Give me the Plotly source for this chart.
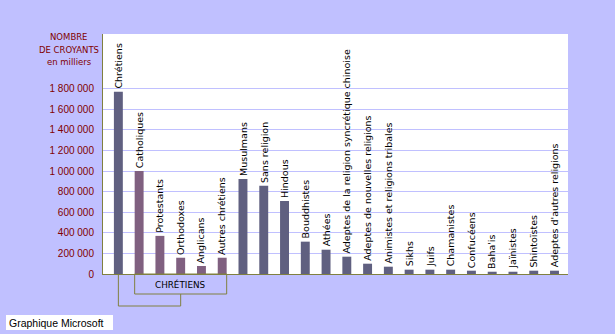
import plotly.graph_objects as go

categories = [
    "Chrétiens", "Catholiques", "Protestants", "Orthodoxes", "Anglicans",
    "Autres chrétiens", "Musulmans", "Sans religion", "Hindous", "Bouddhistes",
    "Athées", "Adeptes de la religion syncrétique chinoise",
    "Adeptes de nouvelles religions", "Animistes et religions tribales",
    "Sikhs", "Juifs", "Chamanistes", "Confucéens", "Baha'is", "Jaïnistes",
    "Shintoïstes", "Adeptes d'autres religions",
]
values = [
    1770000, 1000000, 370000, 158000, 78000, 158000, 922000, 857000, 709000,
    314000, 236000, 168000, 100000, 71000, 42000, 42000, 42000, 32000,
    22000, 22000, 32000, 32000,
]
is_denomination = [False, True, True, True, True, True] + [False] * 16
y_tickvals = [0, 200000, 400000, 600000, 800000, 1000000, 1200000, 1400000, 1600000, 1800000]
y_title_lines = ["NOMBRE", "DE CROYANTS", "en milliers"]
group_label = "CHRÉTIENS"
footer = "Graphique Microsoft"

W, H = 615, 334
ML, MR, MT, MB = 103, 47, 34, 60
PW, PH = W - ML - MR, H - MT - MB
XMIN, XMAX = -0.74, 21.65
YMAX = 2330000
BARW = 0.43

BG = "#c0c0ff"
OLIVE = "#808040"
DARKRED = "#800000"
COL_MAIN = "#606080"
COL_DEN = "#806080"

x = list(range(len(categories)))
colors = [COL_DEN if d else COL_MAIN for d in is_denomination]

fig = go.Figure(go.Bar(x=x, y=values, marker=dict(color=colors, line=dict(width=0)),
                       width=BARW, hoverinfo="skip"))

def xp(v):
    return (v - XMIN) / (XMAX - XMIN)

def ypx(py):
    return (H - MB - py) / PH

def xpx(px):
    return (px - ML) / PW

annotations = []
for i, (c, v) in enumerate(zip(categories, values)):
    annotations.append(dict(
        x=i, y=v, xref="x", yref="y", text=c, showarrow=False,
        textangle=-90, xanchor="center", yanchor="bottom", yshift=1,
        font=dict(family="DejaVu Sans", size=9.5, color="black"),
    ))

for k, line in enumerate(y_title_lines):
    annotations.append(dict(
        x=xpx(69), y=ypx(37 + 12.5 * k), xref="paper", yref="paper", text=line,
        showarrow=False, xanchor="center", yanchor="middle",
        font=dict(family="DejaVu Sans", size=8.5, color=DARKRED),
    ))

den_idx = [i for i, d in enumerate(is_denomination) if d]
bx0 = xp(den_idx[0] - BARW / 2)
bx1 = xp(den_idx[-1] + BARW / 2)
bmid = (bx0 + bx1) / 2
box_bottom = ypx(294)
line_bottom = ypx(306)
shapes = [
    dict(type="rect", xref="paper", yref="paper", x0=bx0, x1=bx1, y0=0, y1=box_bottom,
         line=dict(color=OLIVE, width=1), layer="above"),
    dict(type="path", xref="paper", yref="paper",
         path=f"M {xp(0)},0 L {xp(0)},{line_bottom} L {bmid},{line_bottom} L {bmid},{box_bottom}",
         line=dict(color=OLIVE, width=1), layer="above"),
    dict(type="rect", xref="paper", yref="paper", x0=xpx(6), x1=xpx(113), y0=ypx(330), y1=ypx(315),
         fillcolor="white", line=dict(width=0), layer="above"),
]
annotations.append(dict(
    x=bmid, y=box_bottom / 2, xref="paper", yref="paper", text=group_label,
    showarrow=False, xanchor="center", yanchor="middle",
    font=dict(family="DejaVu Sans", size=8.8, color="black"),
))
annotations.append(dict(
    x=xpx(7), y=ypx(322.5), xref="paper", yref="paper", text=footer,
    showarrow=False, xanchor="left", yanchor="middle",
    font=dict(family="Liberation Sans", size=10.5, color="black"),
))

fig.update_layout(
    width=W, height=H, margin=dict(l=ML, r=MR, t=MT, b=MB, pad=0),
    paper_bgcolor=BG, plot_bgcolor="white", showlegend=False,
    separators=", ",
    xaxis=dict(range=[XMIN, XMAX], showticklabels=False, showgrid=False, zeroline=False,
               showline=True, linecolor=OLIVE, linewidth=1, ticks="", fixedrange=True),
    yaxis=dict(range=[0, YMAX], tickvals=y_tickvals, tickformat=",d", showgrid=True,
               gridcolor=BG, gridwidth=1, zeroline=False, showline=True, linecolor=OLIVE,
               linewidth=1, ticks="", ticklabelstandoff=6,
               tickfont=dict(family="Liberation Sans", size=10, color=DARKRED), fixedrange=True),
    shapes=shapes, annotations=annotations,
)

fig.write_html("out.html", config={"displayModeBar": False})
